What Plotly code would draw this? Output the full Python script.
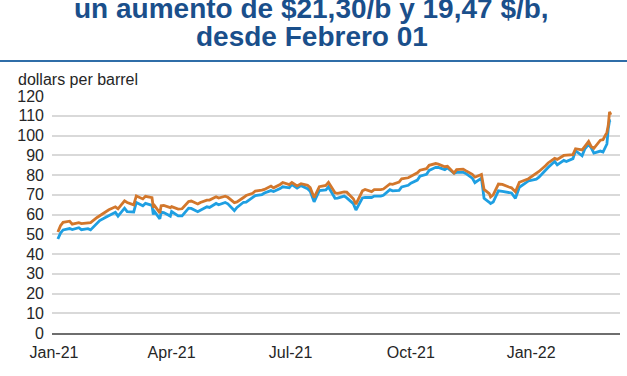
import plotly.graph_objects as go

dates = [
"2021-01-04","2021-01-06","2021-01-08","2021-01-13","2021-01-15","2021-01-20","2021-01-22","2021-01-27","2021-01-29",
"2021-02-03","2021-02-05","2021-02-10","2021-02-12","2021-02-17","2021-02-19","2021-02-24","2021-02-26",
"2021-03-03","2021-03-05","2021-03-10","2021-03-12","2021-03-17","2021-03-18","2021-03-19","2021-03-23","2021-03-24","2021-03-26","2021-03-31",
"2021-04-01","2021-04-06","2021-04-09","2021-04-14","2021-04-16","2021-04-21","2021-04-23","2021-04-28","2021-04-30",
"2021-05-05","2021-05-07","2021-05-12","2021-05-14","2021-05-19","2021-05-21","2021-05-26","2021-05-28",
"2021-06-02","2021-06-04","2021-06-09","2021-06-11","2021-06-16","2021-06-18","2021-06-23","2021-06-25","2021-06-30",
"2021-07-02","2021-07-06","2021-07-09","2021-07-14","2021-07-16","2021-07-19","2021-07-23","2021-07-28","2021-07-30",
"2021-08-04","2021-08-06","2021-08-11","2021-08-13","2021-08-18","2021-08-20","2021-08-25","2021-08-27",
"2021-09-01","2021-09-03","2021-09-08","2021-09-10","2021-09-15","2021-09-17","2021-09-22","2021-09-24","2021-09-29",
"2021-10-01","2021-10-06","2021-10-08","2021-10-13","2021-10-15","2021-10-20","2021-10-22","2021-10-27","2021-10-29",
"2021-11-03","2021-11-05","2021-11-10","2021-11-12","2021-11-17","2021-11-19","2021-11-24","2021-11-26","2021-11-30",
"2021-12-01","2021-12-03","2021-12-07","2021-12-10","2021-12-15","2021-12-17","2021-12-20","2021-12-23","2021-12-30",
"2022-01-05","2022-01-07","2022-01-12","2022-01-14","2022-01-19","2022-01-21","2022-01-26","2022-01-28",
"2022-02-02","2022-02-04","2022-02-09","2022-02-11","2022-02-14","2022-02-16","2022-02-18","2022-02-23","2022-02-25",
"2022-02-28","2022-03-01","2022-03-02","2022-03-03"]

brent = [
51.1,54.3,56.0,56.6,55.1,55.9,55.4,55.8,55.9,
58.5,59.3,61.5,62.4,63.9,62.9,66.9,66.1,
64.9,69.4,67.9,69.2,68.5,63.5,64.5,60.8,64.4,64.6,63.5,
64.0,62.7,62.9,66.6,66.8,65.3,66.1,67.3,67.3,
69.0,68.3,69.3,68.7,66.0,66.4,68.6,69.6,
70.7,71.9,72.4,72.7,74.4,73.5,75.2,76.2,75.1,
76.2,74.5,75.6,74.8,73.6,68.6,74.1,74.7,76.3,
71.0,70.7,71.4,71.3,68.0,65.2,72.0,72.7,
71.6,72.6,72.6,72.9,75.5,75.3,76.4,78.1,78.6,
79.3,81.1,82.4,83.2,84.9,85.8,85.5,84.2,84.4,
81.0,82.7,83.0,82.2,80.3,78.9,80.3,72.7,70.6,
68.9,69.9,75.4,75.2,73.9,73.5,71.5,76.3,78.1,
81.0,81.8,84.7,86.1,88.4,87.9,89.9,90.0,
90.3,93.3,92.7,94.4,97.0,94.4,93.5,97.6,97.9,
101.6,105.0,112.0,110.5]

wti = [
47.6,50.6,52.2,52.9,52.4,53.3,52.3,52.8,52.2,
55.7,56.9,58.7,59.5,61.1,59.2,63.2,61.5,
61.3,66.1,64.4,65.6,64.6,60.0,61.4,57.8,61.2,61.0,59.2,
61.5,59.3,59.3,63.2,63.1,61.4,62.1,63.9,63.6,
65.6,64.9,66.1,65.4,62.0,63.6,66.2,66.3,
68.8,69.6,70.0,70.9,72.1,71.6,73.1,74.05,73.5,
75.2,73.4,74.6,73.1,71.8,66.4,72.1,72.4,73.95,
68.2,68.3,69.3,68.4,65.5,62.3,68.4,68.7,
68.6,69.3,69.3,69.7,72.6,71.97,72.2,73.98,74.8,
75.9,77.4,79.35,80.4,82.3,83.9,83.8,82.7,83.6,
80.9,81.3,81.4,80.8,78.4,76.1,78.4,68.2,66.2,
65.6,66.3,72.0,71.7,70.9,70.9,68.2,73.8,76.99,
77.9,78.9,82.6,83.8,86.9,85.1,87.4,86.8,
88.3,92.3,89.7,93.1,95.5,93.7,91.1,92.1,91.6,
95.7,103.4,107.5,107.7]

y_ticks = [0,10,20,30,40,50,60,70,80,90,100,110,120]
x_tickvals = ["2021-01-01","2021-04-01","2021-07-01","2021-10-01","2022-01-01"]
x_ticktext = ["Jan-21","Apr-21","Jul-21","Oct-21","Jan-22"]

title_line1 = "un aumento de $21,30/b y 19,47 $/b,"
title_line2 = "desde Febrero 01"
y_title = "dollars per barrel"

W, H = 627, 376
L, R, T, B = 52, 7, 96, 43
pw, ph = W - L - R, H - T - B

def px_x(x):
    return (x - L) / pw

def px_y(y):
    return (H - B - y) / ph

fig = go.Figure()
fig.add_trace(go.Scatter(x=dates, y=wti, mode="lines", name="WTI",
                         line=dict(color="#1E9FE2", width=2.8)))
fig.add_trace(go.Scatter(x=dates, y=brent, mode="lines", name="Brent",
                         line=dict(color="#D2772C", width=2.8)))

font_family = "Liberation Sans, Arial, sans-serif"
fig.update_layout(
    width=W, height=H,
    margin=dict(l=L, r=R, t=T, b=B, pad=0),
    paper_bgcolor="white", plot_bgcolor="white",
    showlegend=False,
    font=dict(family=font_family, size=16, color="#262626"),
    xaxis=dict(type="date", range=["2020-12-30 12:00", "2022-03-10"],
               tickvals=x_tickvals, ticktext=x_ticktext, showgrid=False,
               showline=True, linecolor="#6E6E6E", linewidth=1.5,
               ticks="", ticklabelstandoff=4, zeroline=False,
               tickfont=dict(size=16, color="#262626")),
    yaxis=dict(range=[0, 120], tickvals=y_ticks, showgrid=True,
               gridcolor="#D9D9D9", gridwidth=1.5, zeroline=False,
               showline=False, ticks="", ticklabelstandoff=7,
               tickfont=dict(size=16, color="#262626")),
)

fig.add_annotation(text=y_title, xref="paper", yref="paper",
                   x=px_x(16), y=px_y(79), xanchor="left", yanchor="middle",
                   showarrow=False, font=dict(size=16, color="#262626"))
fig.add_annotation(text="<b>" + title_line1 + "</b>", xref="paper", yref="paper",
                   x=px_x(311), y=px_y(8), xanchor="center", yanchor="middle",
                   showarrow=False, font=dict(size=28, color="#1A4F8B"))
fig.add_annotation(text="<b>" + title_line2 + "</b>", xref="paper", yref="paper",
                   x=px_x(312), y=px_y(36.5), xanchor="center", yanchor="middle",
                   showarrow=False, font=dict(size=28, color="#1A4F8B"))
fig.add_shape(type="line", xref="paper", yref="paper",
              x0=px_x(0), x1=px_x(W), y0=px_y(61), y1=px_y(61),
              line=dict(color="#2F6DA8", width=2))

fig.write_html("out.html", config={"displayModeBar": False},
               post_script="document.body.style.margin='0';document.body.style.padding='0';")
